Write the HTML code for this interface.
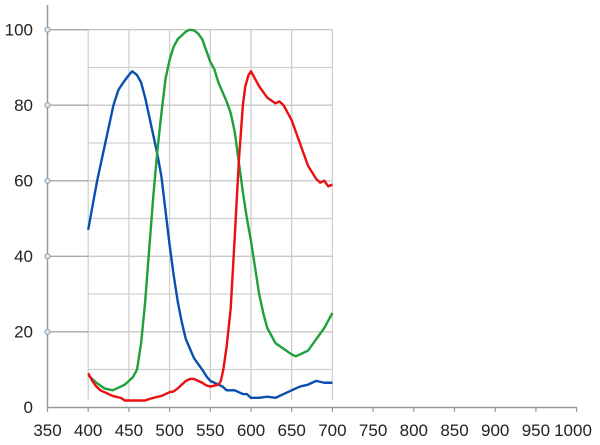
<!DOCTYPE html>
<html><head><meta charset="utf-8"><style>
html,body{margin:0;padding:0;background:#fff;}
svg{display:block;}
text{font-family:"Liberation Sans",sans-serif;font-size:17px;fill:#222;}
</style></head><body>
<svg width="600" height="445" viewBox="0 0 600 445" xmlns="http://www.w3.org/2000/svg">
<g stroke="#d0d0d0" stroke-width="1.3">
<line x1="88" x2="332" y1="67.5" y2="67.5"/>
<line x1="88" x2="332" y1="143" y2="143"/>
<line x1="88" x2="332" y1="218.5" y2="218.5"/>
<line x1="88" x2="332" y1="294" y2="294"/>
<line x1="88" x2="332" y1="369.5" y2="369.5"/>
</g>
<g stroke="#d0d0d0" stroke-width="1.3">
<line x1="88.2" x2="88.2" y1="29.7" y2="400"/>
<line x1="128.9" x2="128.9" y1="29.7" y2="400"/>
<line x1="169.6" x2="169.6" y1="29.7" y2="400"/>
<line x1="210.3" x2="210.3" y1="29.7" y2="400"/>
<line x1="251" x2="251" y1="29.7" y2="400"/>
<line x1="291.7" x2="291.7" y1="29.7" y2="400"/>
<line x1="332.4" x2="332.4" y1="29.7" y2="400"/>
</g>
<g stroke="#a8a8a8" stroke-width="1.3">
<line x1="47.5" x2="88" y1="29.7" y2="29.7"/>
<line x1="47.5" x2="88" y1="105.2" y2="105.2"/>
<line x1="47.5" x2="88" y1="180.8" y2="180.8"/>
<line x1="47.5" x2="88" y1="256.3" y2="256.3"/>
<line x1="47.5" x2="88" y1="331.8" y2="331.8"/>
</g>
<g stroke="#c8c8c8" stroke-width="1.3">
<line x1="88" x2="332" y1="29.7" y2="29.7"/>
<line x1="88" x2="332" y1="105.2" y2="105.2"/>
<line x1="88" x2="332" y1="180.8" y2="180.8"/>
<line x1="88" x2="332" y1="256.3" y2="256.3"/>
<line x1="88" x2="332" y1="331.8" y2="331.8"/>
</g>
<line x1="47.5" x2="47.5" y1="5" y2="407.5" stroke="#999" stroke-width="1.5"/>
<line x1="47.5" x2="577" y1="407.5" y2="407.5" stroke="#999" stroke-width="1.5"/>
<g stroke="#999" stroke-width="1.2">
<line x1="47.5" x2="47.5" y1="407" y2="412"/><line x1="88.2" x2="88.2" y1="407" y2="412"/>
<line x1="128.9" x2="128.9" y1="407" y2="412"/><line x1="169.6" x2="169.6" y1="407" y2="412"/>
<line x1="210.3" x2="210.3" y1="407" y2="412"/><line x1="251" x2="251" y1="407" y2="412"/>
<line x1="291.7" x2="291.7" y1="407" y2="412"/><line x1="332.4" x2="332.4" y1="407" y2="412"/>
<line x1="373.1" x2="373.1" y1="407" y2="412"/><line x1="413.8" x2="413.8" y1="407" y2="412"/>
<line x1="454.5" x2="454.5" y1="407" y2="412"/><line x1="495.2" x2="495.2" y1="407" y2="412"/>
<line x1="535.9" x2="535.9" y1="407" y2="412"/><line x1="576.6" x2="576.6" y1="407" y2="412"/>
</g>
<g fill="#dde8f0" stroke="#8aa0b0" stroke-width="1">
<circle cx="47.5" cy="29.7" r="2.6"/><circle cx="47.5" cy="105.2" r="2.6"/>
<circle cx="47.5" cy="180.8" r="2.6"/><circle cx="47.5" cy="256.3" r="2.6"/>
<circle cx="47.5" cy="331.8" r="2.6"/>
</g>
<g text-anchor="end">
<text x="33" y="35.5">100</text><text x="33" y="111">80</text><text x="33" y="186.5">60</text>
<text x="33" y="262">40</text><text x="33" y="337.5">20</text><text x="33" y="413">0</text>
</g>
<g text-anchor="middle">
<text x="47.5" y="436">350</text><text x="88.2" y="436">400</text><text x="128.9" y="436">450</text>
<text x="169.6" y="436">500</text><text x="210.3" y="436">550</text><text x="251" y="436">600</text>
<text x="291.7" y="436">650</text><text x="332.4" y="436">700</text><text x="373.1" y="436">750</text>
<text x="413.8" y="436">800</text><text x="454.5" y="436">850</text><text x="495.2" y="436">900</text>
<text x="535.9" y="436">950</text><text x="573" y="436">1000</text>
</g>
<g transform="translate(-237.4,407.3) scale(0.814,-3.776)" fill="none" stroke-linejoin="round">
<polyline vector-effect="non-scaling-stroke" stroke="#0a4fb0" stroke-width="2.4" points="400,47 405,53 411,60 420,69 431,80 437,84 443,86 450,88 454,89 460,88 465,86 470,82 475,77 480,72 485,67 490,61 495,52 500,43 505,35 510,28 515,22.5 520,18 525,15.5 530,13 540,10 546,8 550,7 560,6 565,5.5 570,4.5 580,4.5 590,3.5 595,3.5 600,2.5 610,2.5 620,2.8 630,2.5 640,3.5 650,4.5 660,5.5 670,6 680,7 690,6.5 700,6.5"/>
<polyline vector-effect="non-scaling-stroke" stroke="#1ea03a" stroke-width="2.4" points="400,8.5 410,6.5 420,5 430,4.5 440,5.5 445,6 450,7 455,8 460,10 465,17 470,28 475,42 480,56 485,68 490,78 495,87 500,92 505,95.5 510,97.5 520,99.5 525,100 530,99.8 535,99 540,97.5 545,94.5 550,91.5 555,89.5 560,86 570,81 575,78 580,73 585,65 590,57 595,50 600,44 605,37 610,30 615,25 620,21 630,17 640,15.5 650,14 655,13.5 660,14 665,14.5 670,15 680,18 690,21 700,25"/>
<polyline vector-effect="non-scaling-stroke" stroke="#e81010" stroke-width="2.4" points="400,9 405,7 410,5.5 415,4.5 420,4 425,3.5 430,3 440,2.5 445,1.8 460,1.8 470,1.8 475,2.2 480,2.5 490,3 495,3.5 500,4 505,4.2 510,5 515,6 520,7 525,7.5 530,7.5 535,7 540,6.5 545,5.8 550,5.5 560,6 563,7 566,10 570,16 575,26 580,45 585,65 590,80 593,85 597,88 600,89 605,87 610,85 620,82 630,80.5 635,81 640,80 650,76 660,70 670,64 680,60.5 685,59.5 690,60 695,58.5 700,59"/>
</g>
</svg>
</body></html>
